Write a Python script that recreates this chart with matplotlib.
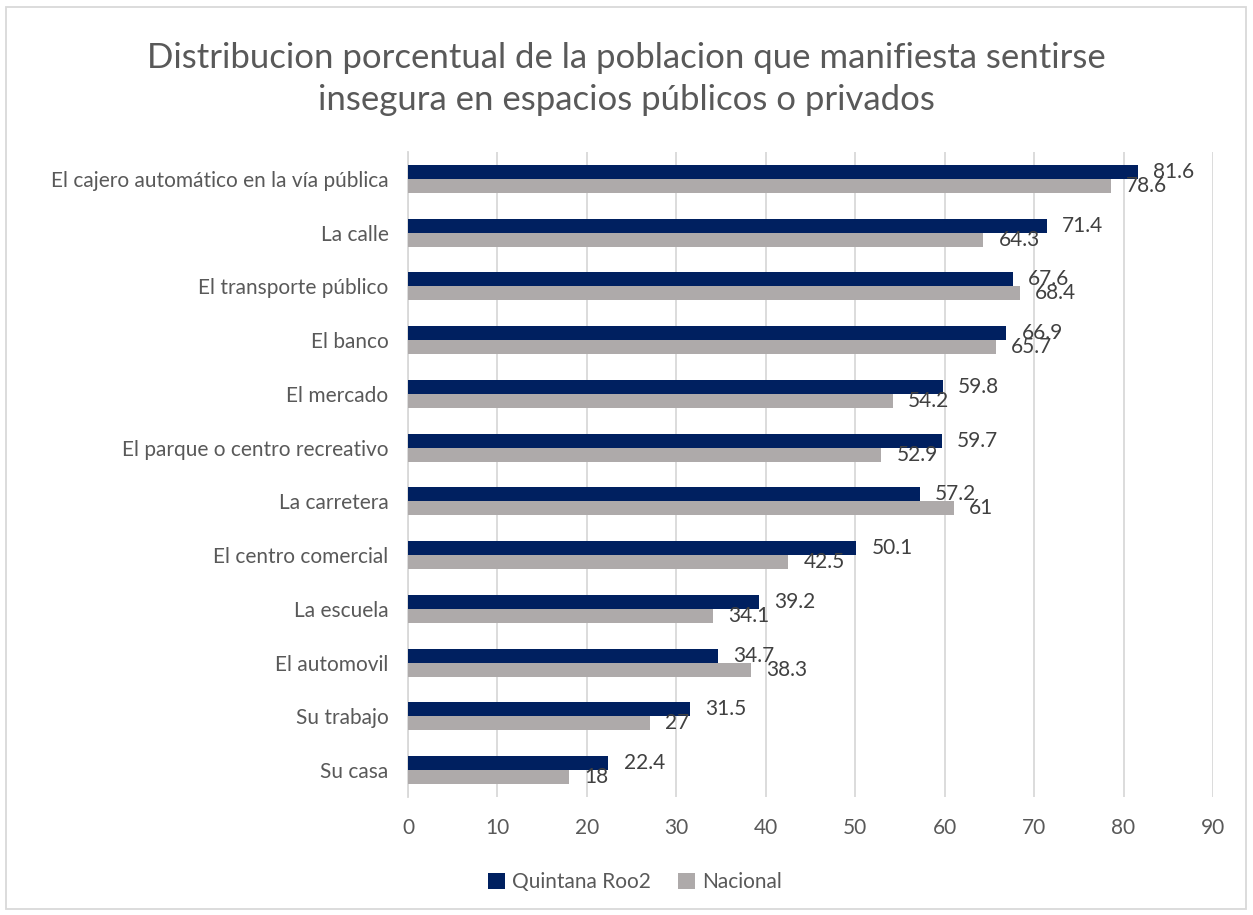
import matplotlib
matplotlib.use("Agg")
import matplotlib.pyplot as plt
import numpy as np
from matplotlib.patches import Rectangle

plt.rcParams['font.family'] = ['Lato', 'DejaVu Sans']

TITLE = "Distribucion porcentual de la poblacion que manifiesta sentirse\ninsegura en espacios públicos o privados"
categories = [
    "El cajero automático en la vía pública",
    "La calle",
    "El transporte público",
    "El banco",
    "El mercado",
    "El parque o centro recreativo",
    "La carretera",
    "El centro comercial",
    "La escuela",
    "El automovil",
    "Su trabajo",
    "Su casa",
]
quintana = [81.6, 71.4, 67.6, 66.9, 59.8, 59.7, 57.2, 50.1, 39.2, 34.7, 31.5, 22.4]
nacional = [78.6, 64.3, 68.4, 65.7, 54.2, 52.9, 61, 42.5, 34.1, 38.3, 27, 18]
series_names = ["Quintana Roo2", "Nacional"]

NAVY = "#002060"
GRAY = "#AEAAAA"
TXT = "#595959"
LBL = "#404040"

fig = plt.figure(figsize=(12.53, 9.15), dpi=100)
fig.patches.append(Rectangle((6 / 1253, 6 / 915), 1 - 13 / 1253, 1 - 13 / 915,
                             transform=fig.transFigure, fill=False,
                             edgecolor="#D9D9D9", linewidth=1.3))

ax = fig.add_axes([408 / 1253, 1 - 797 / 915, (1213 - 408) / 1253, (797 - 152) / 915])

y = np.arange(len(categories))
h = 0.26
ax.barh(y - h / 2, quintana, height=h, color=NAVY, label=series_names[0], zorder=3)
ax.barh(y + h / 2, nacional, height=h, color=GRAY, label=series_names[1], zorder=3)

# data labels, Excel "outside end" style (they overlap where values are close, as in the original)
for yi, v in zip(y, quintana):
    ax.annotate(f"{v:g}", (v, yi - h / 2), xytext=(11, 0), textcoords="offset points",
                va="center", ha="left", fontsize=15, color=LBL, zorder=4)
for yi, v in zip(y, nacional):
    ax.annotate(f"{v:g}", (v, yi + h / 2), xytext=(11, 0), textcoords="offset points",
                va="center", ha="left", fontsize=15, color=LBL, zorder=4)

ax.set_xlim(0, 90)
ax.set_xticks(range(0, 91, 10))
ax.set_ylim(len(categories) - 0.5, -0.5)
ax.set_yticks(y)
ax.set_yticklabels(categories)
ax.tick_params(axis="both", length=0, labelsize=15, colors=TXT)
ax.tick_params(axis="x", pad=15)
ax.tick_params(axis="y", pad=14)
ax.grid(axis="x", color="#D9D9D9", linewidth=1.3, zorder=0)
for s in ["top", "right", "bottom"]:
    ax.spines[s].set_visible(False)
ax.spines["left"].set_color("#D9D9D9")
ax.spines["left"].set_linewidth(1.3)

fig.text(0.5, 1 - 79 / 915, TITLE, ha="center", va="center", fontsize=25,
         color=TXT, linespacing=1.35)

fig.legend(loc="center", bbox_to_anchor=(0.507, 1 - 882 / 915), ncol=2, frameon=False,
           fontsize=15, labelcolor=TXT, handlelength=0.8, handleheight=0.8,
           handletextpad=0.35, columnspacing=1.3)

fig.savefig("out.png", dpi=100)
